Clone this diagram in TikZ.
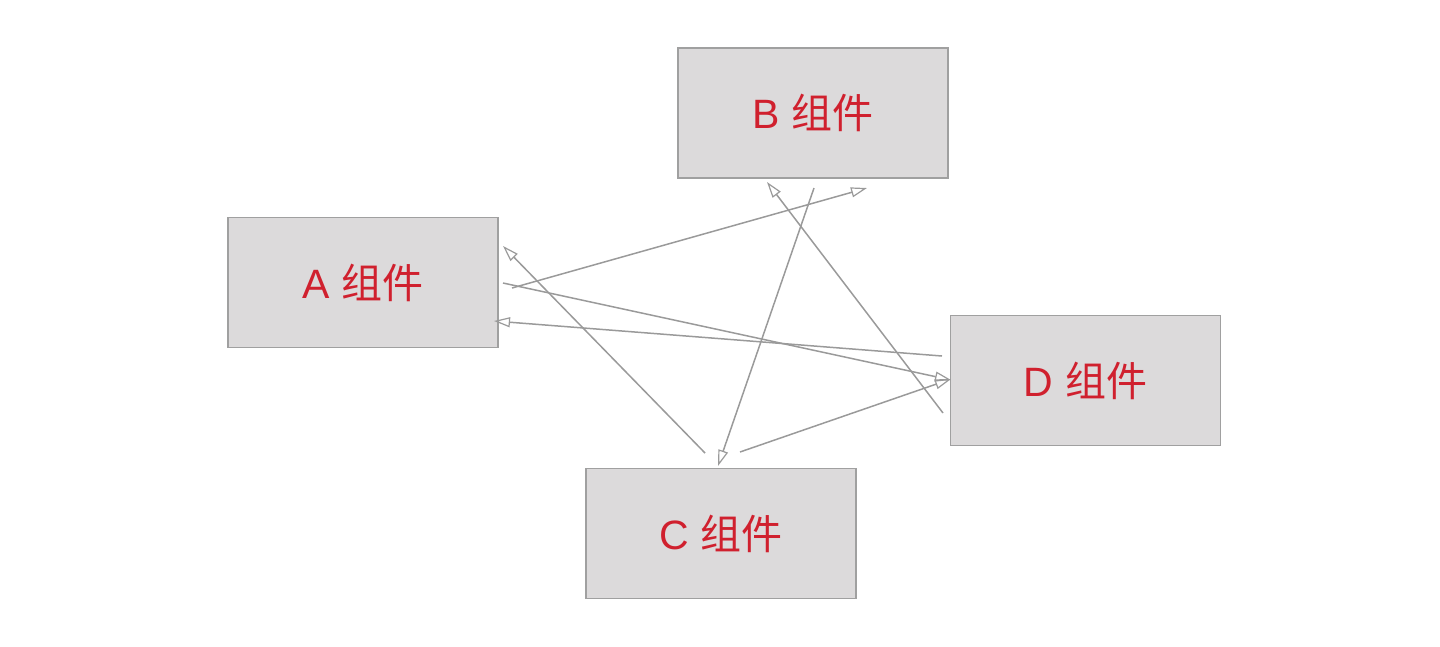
\documentclass[tikz,border=0pt]{standalone}
\usepackage{fontspec}
\setmainfont{Liberation Sans}
\newfontfamily\cjk{Noto Sans CJK SC}
\usetikzlibrary{arrows.meta}
\definecolor{boxfill}{HTML}{DCDADB}
\definecolor{boxline}{HTML}{A0A0A0}
\definecolor{labred}{HTML}{D0202E}
\definecolor{linegray}{HTML}{9A9A9A}
\tikzset{
  comp/.style={draw=boxline, line width=1.2pt, fill=boxfill, minimum width=270pt, minimum height=130pt,
    inner sep=0pt, font=\fontsize{41}{48}\selectfont, text=labred},
  link/.style={draw=linegray, line width=1.5pt, -{Triangle[open, length=16pt, width=10pt, line width=1.2pt]}}
}
\newcommand{\zj}{{\cjk 组件}}
\begin{document}
\begin{tikzpicture}[x=1pt,y=-1pt]
\useasboundingbox (0,0) rectangle (1440,646);
\node[comp] (A) at (363,282.5) {A\hspace{0.3em}\zj};
\node[comp] (B) at (813,113) {B\hspace{0.3em}\zj};
\node[comp] (C) at (721,533.5) {C\hspace{0.3em}\zj};
\node[comp] (D) at (1085.5,380.5) {D\hspace{0.3em}\zj};
% endpoints
\coordinate (ab1) at (512,288);
\coordinate (ab2) at (867,188);
\coordinate (ad1) at (503,283);
\coordinate (ad2) at (951,380);
\coordinate (da1) at (942,356);
\coordinate (da2) at (494,321);
\coordinate (ca1) at (705,453);
\coordinate (ca2) at (503,246);
\coordinate (bc1) at (814,188);
\coordinate (bc2) at (718,466);
\coordinate (db1) at (943,413);
\coordinate (db2) at (767,182);
\coordinate (cd1) at (740,452);
\coordinate (cd2) at (951,379);
\draw[link] (ab1) -- (ab2);
\draw[link] (ad1) -- (ad2);
\draw[link] (da1) -- (da2);
\draw[link] (ca1) -- (ca2);
\draw[link] (bc1) -- (bc2);
\draw[link] (db1) -- (db2);
\draw[link] (cd1) -- (cd2);
\end{tikzpicture}
\end{document}
